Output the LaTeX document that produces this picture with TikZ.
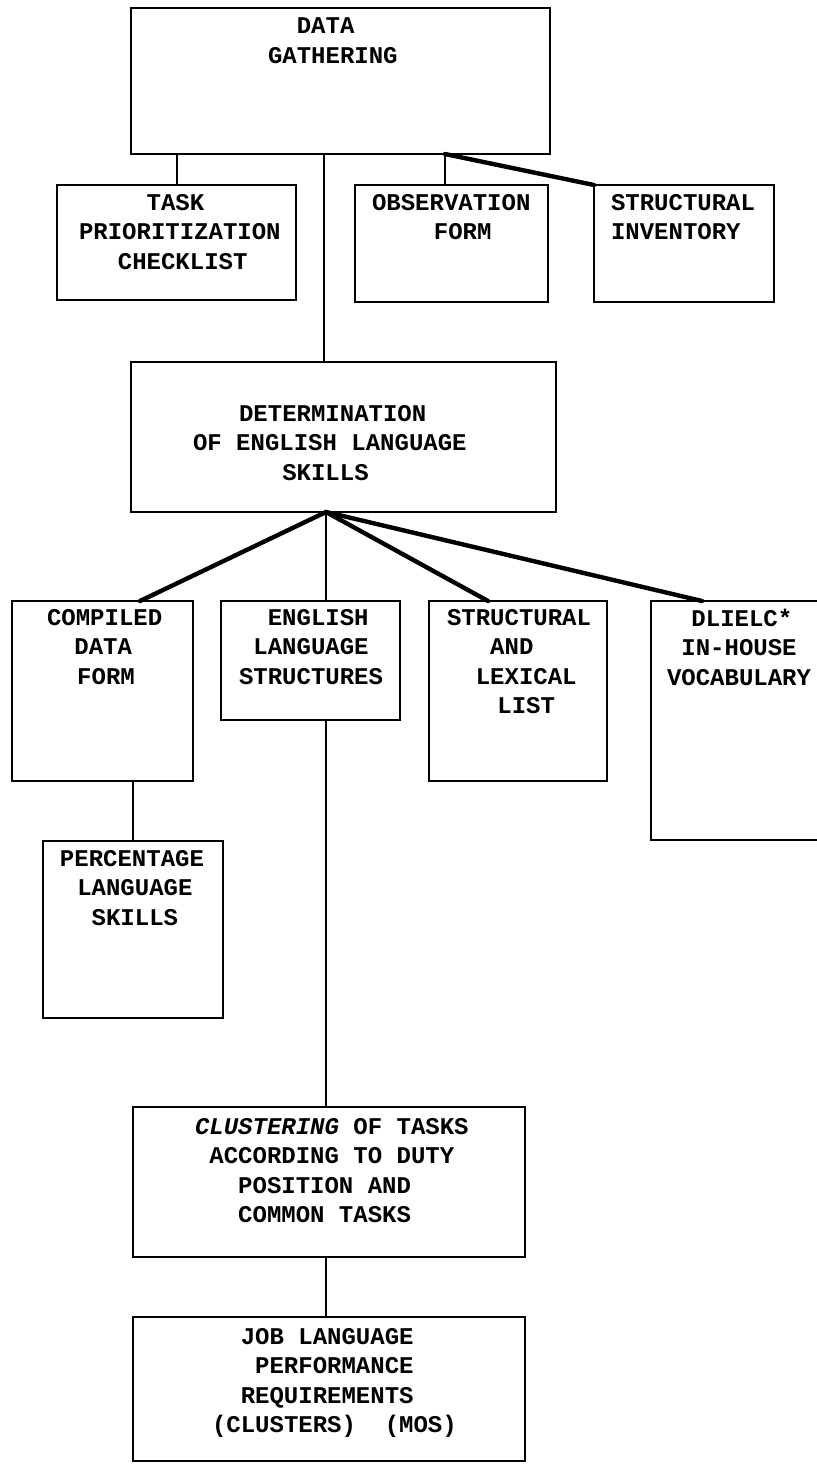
\documentclass[tikz,border=0pt]{standalone}
\usepackage{fontspec}
\setmonofont{Liberation Mono}
\newlength\cw \setlength\cw{7.2pt}
\newcommand\ind[1]{\hspace*{#1\cw}}
\newcommand\bx[5]{\node[box,minimum width={(#4-#2)*0.5pt},minimum height={(#5-#3)*0.5pt}] (#1) at (#2,#3) {};}
\begin{document}
\begin{tikzpicture}[x=0.5pt,y=-0.5pt,
  box/.style={draw,line width=1.3pt,inner sep=0pt,outer sep=0pt,anchor=north west,rectangle},
  txt/.style={inner sep=0pt,outer sep=0pt,anchor=north west,align=left,yshift=-3.5pt,
    font=\ttfamily\bfseries\fontsize{12}{14.75}\selectfont,
    execute at begin node={\rule{0pt}{10pt}}},
  light/.style={line width=1pt},
  heavy/.style={line width=2.2pt,line cap=round}]
\path[use as bounding box,clip] (0,0) rectangle (817,1464);
\fill[white] (0,0) rectangle (817,1464);
% boxes
\bx{dg}{131}{8}{550}{154}
\bx{task}{57}{185}{296}{300}
\bx{obs}{355}{185}{548}{302}
\bx{si}{594}{185}{774}{302}
\bx{det}{131}{362}{556}{512}
\bx{cdf}{12}{601}{193}{781}
\bx{els}{221}{601}{400}{720}
\bx{sl}{429}{601}{607}{781}
\bx{dl}{651}{601}{840}{840}
\bx{perc}{43}{841}{223}{1018}
\bx{clu}{133}{1107}{525}{1257}
\bx{job}{133}{1317}{525}{1461}
% texts
\node[txt] (tdg) at (268,11) {\ind{2}DATA\\GATHERING};
\node[txt] (ttask) at (79,187) {\ind{4.7}TASK\\PRIORITIZATION\\\ind{2.7}CHECKLIST};
\node[txt] (tobs) at (372,187) {OBSERVATION\\\ind{4.3}FORM};
\node[txt] (tsi) at (611,187) {STRUCTURAL\\INVENTORY};
\node[txt] (tdet) at (193,398) {\ind{3.2}DETERMINATION\\OF ENGLISH LANGUAGE\\\ind{6.2}SKILLS};
\node[txt] (tcdf) at (47,602) {COMPILED\\\ind{1.9}DATA\\\ind{2.1}FORM};
\node[txt] (tels) at (239,602) {\ind{2}ENGLISH\\\ind{1}LANGUAGE\\STRUCTURES};
\node[txt] (tsl) at (447,602) {STRUCTURAL\\\ind{3}AND\\\ind{2}LEXICAL\\\ind{3.5}LIST};
\node[txt] (tdl) at (667,602) {\ind{1.7}DLIELC*\\\ind{1}IN-HOUSE\\VOCABULARY};
\node[txt] (tperc) at (60,843) {PERCENTAGE\\\ind{1.2}LANGUAGE\\\ind{2.2}SKILLS};
\node[txt] (tclu) at (195,1111) {{\itshape CLUSTERING} OF TASKS\\\ind{1}ACCORDING TO DUTY\\\ind{3}POSITION AND\\\ind{3}COMMON TASKS};
\node[txt] (tjob) at (212,1321) {\ind{2}JOB LANGUAGE\\\ind{3}PERFORMANCE\\\ind{2}REQUIREMENTS\\(CLUSTERS)\ind{2}(MOS)};
% junction points
\coordinate (dgm) at (324,154);
\coordinate (dgj) at (445,154);
\coordinate (detj) at (326,512);
\coordinate (cdft) at (140,601);
\coordinate (slt) at (488,601);
\coordinate (dlt) at (702,601);
% connectors
\draw[light] (task.north) -- (task.north |- dg.south);
\draw[light] (dgm) -- (dgm |- det.north);
\draw[light] (dgj) -- (dgj |- obs.north);
\draw[heavy] (dgj) -- (si.north west);
\draw[heavy] (detj) -- (cdft);
\draw[light] (detj) -- (detj |- els.north);
\draw[heavy] (detj) -- (slt);
\draw[heavy] (detj) -- (dlt);
\draw[light] (perc.north) -- (perc.north |- cdf.south);
\draw[light] (detj |- els.south) -- (detj |- clu.north);
\draw[light] (detj |- clu.south) -- (detj |- job.north);
\end{tikzpicture}
\end{document}
